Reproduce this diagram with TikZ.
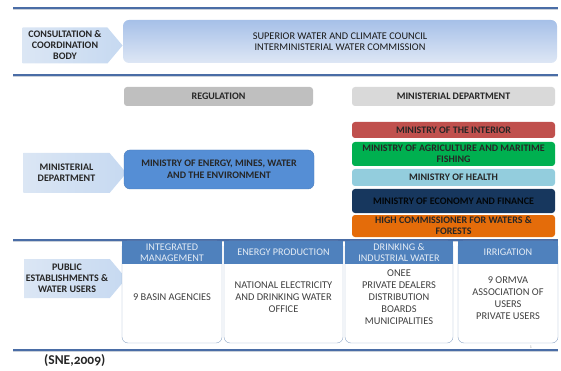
\documentclass[tikz,border=0pt]{standalone}
\usepackage{fontspec}
\setmainfont{Carlito}
\newfontfamily\oldnum[Numbers=OldStyle]{Carlito}
\usetikzlibrary{shapes.symbols}

\definecolor{lineblue}{HTML}{4A6DA6}
\definecolor{shadowgray}{HTML}{C9D0DA}
\definecolor{chevblue}{HTML}{C6D9F1}
\definecolor{chevlight}{HTML}{DBE6F4}
\definecolor{topdark}{HTML}{A6C0E8}
\definecolor{toplight}{HTML}{DEE7F5}
\definecolor{reggray}{HTML}{BFBFBF}
\definecolor{deptgray}{HTML}{D9D9D9}
\definecolor{energyblue}{HTML}{558ED5}
\definecolor{energyline}{HTML}{4A7CBA}
\definecolor{interiorred}{HTML}{C0504D}
\definecolor{agrigreen}{HTML}{00B050}
\definecolor{healthblue}{HTML}{93CDDD}
\definecolor{econnavy}{HTML}{17375E}
\definecolor{forestorange}{HTML}{E46C0A}
\definecolor{headblue}{HTML}{4F81BD}
\definecolor{boxline}{HTML}{8EA6C6}
\definecolor{bodytext}{HTML}{404040}

\begin{document}
\begin{tikzpicture}[x=1pt,y=-1pt,
    band/.style={line width=1.5pt,draw=lineblue},
    bandshadow/.style={line width=1pt,draw=shadowgray},
    chev/.style={signal,signal to=east,signal pointer angle=100,
        left color=chevlight,right color=chevblue,inner sep=0pt,
        minimum width=100pt,align=center,text=black!85,
        font=\bfseries\fontsize{10}{11}\selectfont},
    bar/.style={rounded corners=3pt,inner sep=0pt,align=center,
        minimum width=203pt,text=black!85,
        font=\bfseries\fontsize{10}{11}\selectfont},
    colbody/.style={draw=boxline,fill=white,rounded corners=6pt,
        inner sep=0pt,minimum height=102pt},
    colhead/.style={fill=headblue,inner sep=0pt,minimum height=23pt,
        anchor=north,align=center,text=white!85!headblue,
        font=\fontsize{10.2}{11}\selectfont},
    coltext/.style={align=center,text=bodytext,
        font=\fontsize{10.4}{12}\selectfont}]
\useasboundingbox (0,0) rectangle (561,371);

% horizontal bands
\draw[bandshadow] (13,9.8)--(558,9.8);
\draw[band] (13,8)--(558,8);
\draw[bandshadow] (13,76.8)--(558,76.8);
\draw[band] (13,75)--(558,75);
\draw[bandshadow] (13,241.6)--(558,241.6);
\draw[band] (13,239.8)--(558,239.8);
\draw[bandshadow] (13,351.8)--(558,351.8);
\draw[band] (13,350)--(558,350);

% left side labels
\node[chev,minimum height=36pt] (consult) at (65,45.5) {CONSULTATION \&\\COORDINATION\\BODY};
\node[chev,minimum height=40pt,minimum width=103pt] (ministerial) at (66.5,173) {MINISTERIAL\\DEPARTMENT};
\node[chev,minimum height=39pt,minimum width=102pt] (public) at (67,278.5) {PUBLIC\\ESTABLISHMENTS \&\\WATER USERS};

% consultation body
\node[rounded corners=6pt,top color=topdark,bottom color=toplight,
    minimum width=434pt,minimum height=43pt,inner sep=0pt,align=center,
    text=black!90,font=\fontsize{10.3}{11}\selectfont] (council) at (340,41.5)
    {SUPERIOR WATER AND CLIMATE COUNCIL\\INTERMINISTERIAL WATER COMMISSION};

% headings
\node[bar,fill=reggray,minimum width=189pt,minimum height=19pt] (regulation) at (218.5,96.5) {REGULATION};
\node[bar,fill=deptgray,minimum height=19pt] (department) at (453.5,96.5) {MINISTERIAL DEPARTMENT};

% regulation ministry
\node[bar,draw=energyline,fill=energyblue,rounded corners=6pt,minimum width=190pt,
    minimum height=39pt,font=\bfseries\fontsize{10}{12}\selectfont] (energy) at (219,169.5)
    {MINISTRY OF ENERGY, MINES, WATER\\AND THE ENVIRONMENT};

% other ministries
\node[bar,fill=interiorred,minimum height=16pt] (interior) at (453.5,130) {MINISTRY OF THE INTERIOR};
\node[bar,fill=agrigreen,minimum height=24pt] (agriculture) at (453.5,154) {MINISTRY OF AGRICULTURE AND MARITIME\\FISHING};
\node[bar,fill=healthblue,minimum height=17pt] (health) at (453.5,177.5) {MINISTRY OF HEALTH};
\node[bar,fill=econnavy,minimum height=24pt,text=black!90!econnavy] (economy) at (453.5,201) {MINISTRY OF ECONOMY AND FINANCE};
\node[bar,fill=forestorange,minimum height=22pt] (forests) at (453.5,226) {HIGH COMMISSIONER FOR WATERS \&\\FORESTS};

% public establishments and users
\node[colbody,minimum width=100pt] (basin) at (172,292) {};
\node[colbody,minimum width=119pt] (energyprod) at (283.5,292) {};
\node[colbody,minimum width=108pt] (drinking) at (399,292) {};
\node[colbody,minimum width=100pt] (irrigation) at (508,292) {};

\node[colhead,minimum width=100pt] (basinhead) at (basin.north) {INTEGRATED\\MANAGEMENT};
\node[colhead,minimum width=119pt] (energyhead) at (energyprod.north) {ENERGY PRODUCTION};
\node[colhead,minimum width=108pt] (drinkinghead) at (drinking.north) {DRINKING \&\\INDUSTRIAL WATER};
\node[colhead,minimum width=100pt] (irrigationhead) at (irrigation.north) {IRRIGATION};

\node[coltext] (basintext) at (172,297) {9 BASIN AGENCIES};
\node[coltext] (energytext) at (283.5,297) {NATIONAL ELECTRICITY\\AND DRINKING WATER\\OFFICE};
\node[coltext] (drinkingtext) at (399,297) {ONEE\\PRIVATE DEALERS\\DISTRIBUTION\\BOARDS\\MUNICIPALITIES};
\node[coltext] (irrigationtext) at (508,298) {9 ORMVA\\ASSOCIATION OF\\USERS\\PRIVATE USERS};

% source and page number
\node[anchor=west,inner sep=0pt,text=black!85,font=\oldnum\bfseries\fontsize{13.5}{15}\selectfont] (source) at (44,361) {(SNE,2009)};
\node[inner sep=0pt,text=black!40,font=\fontsize{4}{5}\selectfont] (pagenum) at (531,347) {1};
\end{tikzpicture}
\end{document}
